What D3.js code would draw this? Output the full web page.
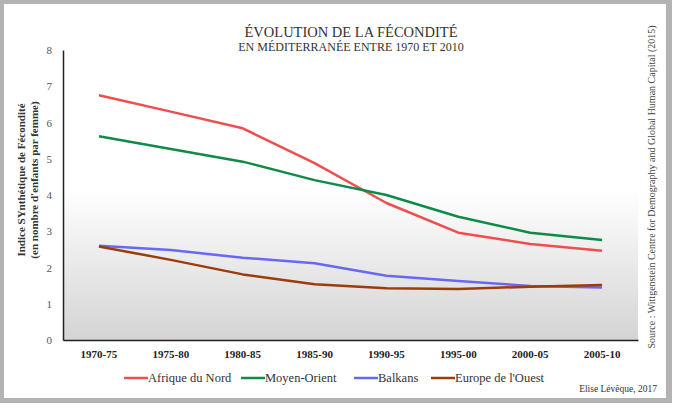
<!DOCTYPE html>
<html><head><meta charset="utf-8">
<script src="https://cdn.jsdelivr.net/npm/d3@7"></script>
<style>body{margin:0;background:#fff}svg{display:block}
svg text{font-family:"Liberation Serif","Tinos","Times New Roman","DejaVu Serif",serif}</style>
</head><body>
<svg id="c" width="677" height="416"></svg>
<script>
const categories = ["1970-75","1975-80","1980-85","1985-90","1990-95","1995-00","2000-05","2005-10"];
const seriesNames = ["Afrique du Nord","Moyen-Orient","Balkans","Europe de l'Ouest"];
const afriqueDuNord = [6.75, 6.3, 5.84, 4.88, 3.78, 2.96, 2.65, 2.46];
const moyenOrient = [5.62, 5.27, 4.92, 4.41, 4.0, 3.40, 2.96, 2.76];
const balkans = [2.60, 2.48, 2.27, 2.12, 1.77, 1.63, 1.49, 1.45];
const europeOuest = [2.58, 2.21, 1.81, 1.54, 1.43, 1.41, 1.47, 1.52];
const yTicks = [0,1,2,3,4,5,6,7,8];
const colors = ["#f04e4e","#0f8a48","#6868f2","#9c3c0c"];
const seriesValues = [afriqueDuNord, moyenOrient, balkans, europeOuest];

(function(){
const svg = d3.select("#c");

const defs = svg.append("defs");
const g1 = defs.append("linearGradient").attr("id","bg").attr("x1",0).attr("y1",0).attr("x2",0).attr("y2",1);
g1.append("stop").attr("offset","0").attr("stop-color","#ffffff");
g1.append("stop").attr("offset","0.48").attr("stop-color","#ffffff");
g1.append("stop").attr("offset","1").attr("stop-color","#d4d4d4");
svg.append("rect").attr("x",0).attr("y",0).attr("width",672).attr("height",403).attr("fill","#b3b3b3");
svg.append("rect").attr("x",4).attr("y",4).attr("width",662).attr("height",394).attr("fill","#ffffff");

const pl = 63, pr = 638, pt = 50, pb = 340;
const x = d3.scaleBand().domain(categories).range([pl, pr]);
const y = d3.scaleLinear().domain([0, 8]).range([pb, pt]);

svg.append("rect").attr("x",pl).attr("y",pt).attr("width",pr-pl).attr("height",pb-pt).attr("fill","url(#bg)");

const ya = svg.append("g").attr("transform",`translate(${pl},0)`)
  .call(d3.axisLeft(y).tickValues(yTicks).tickSize(0).tickPadding(11).tickFormat(d3.format("d")));
ya.attr("font-family",null);
ya.select(".domain").attr("stroke","#222").attr("stroke-width",1.5);
ya.selectAll("text").attr("font-size",11).attr("fill","#555");

const xa = svg.append("g").attr("transform",`translate(0,${pb})`)
  .call(d3.axisBottom(x).tickSize(0).tickPadding(10));
xa.attr("font-family",null);
xa.select(".domain").attr("stroke","#222").attr("stroke-width",1.5);
xa.selectAll("text").attr("font-size",11).attr("font-weight","bold").attr("fill","#222");

const line = d3.line().x((d,i)=>x(categories[i]) + x.bandwidth()/2).y(d=>y(d));
seriesValues.forEach((vals,k)=>{
  svg.append("path").datum(vals).attr("d",line).attr("fill","none")
    .attr("stroke",colors[k]).attr("stroke-width",2.5).attr("stroke-linejoin","round");
});

svg.append("text").attr("x",351).attr("y",37).attr("text-anchor","middle")
  .attr("font-size",14.5).attr("fill","#333").text("ÉVOLUTION DE LA FÉCONDITÉ");
svg.append("text").attr("x",351).attr("y",51).attr("text-anchor","middle")
  .attr("font-size",12).attr("fill","#333").text("EN MÉDITERRANÉE ENTRE 1970 ET 2010");

const yt = svg.append("text").attr("transform","translate(25,180) rotate(-90)")
  .attr("text-anchor","middle").attr("font-size",11).attr("font-weight","bold").attr("fill","#333");
yt.append("tspan").attr("x",0).attr("dy",0).text("Indice SYnthétique de Fécondité");
yt.append("tspan").attr("x",0).attr("dy",13).text("(en nombre d'enfants par femme)");

svg.append("text").attr("transform","translate(655,187) rotate(-90)")
  .attr("text-anchor","middle").attr("font-size",10).attr("fill","#444")
  .text("Source : Wittgenstein Centre for Demography and Global Human Capital (2015)");

const legX = [124, 241, 354, 431];
seriesNames.forEach((n,k)=>{
  const g = svg.append("g").attr("transform",`translate(${legX[k]},378)`);
  g.append("line").attr("x1",0).attr("x2",24).attr("y1",0).attr("y2",0).attr("stroke",colors[k]).attr("stroke-width",2.5);
  g.append("text").attr("x",24).attr("y",4).attr("font-size",12.5).attr("fill","#333").text(n);
});

svg.append("text").attr("x",657).attr("y",392).attr("text-anchor","end")
  .attr("font-size",9.5).attr("fill","#333").text("Elise Lévêque, 2017");
})();
</script>
</body></html>
